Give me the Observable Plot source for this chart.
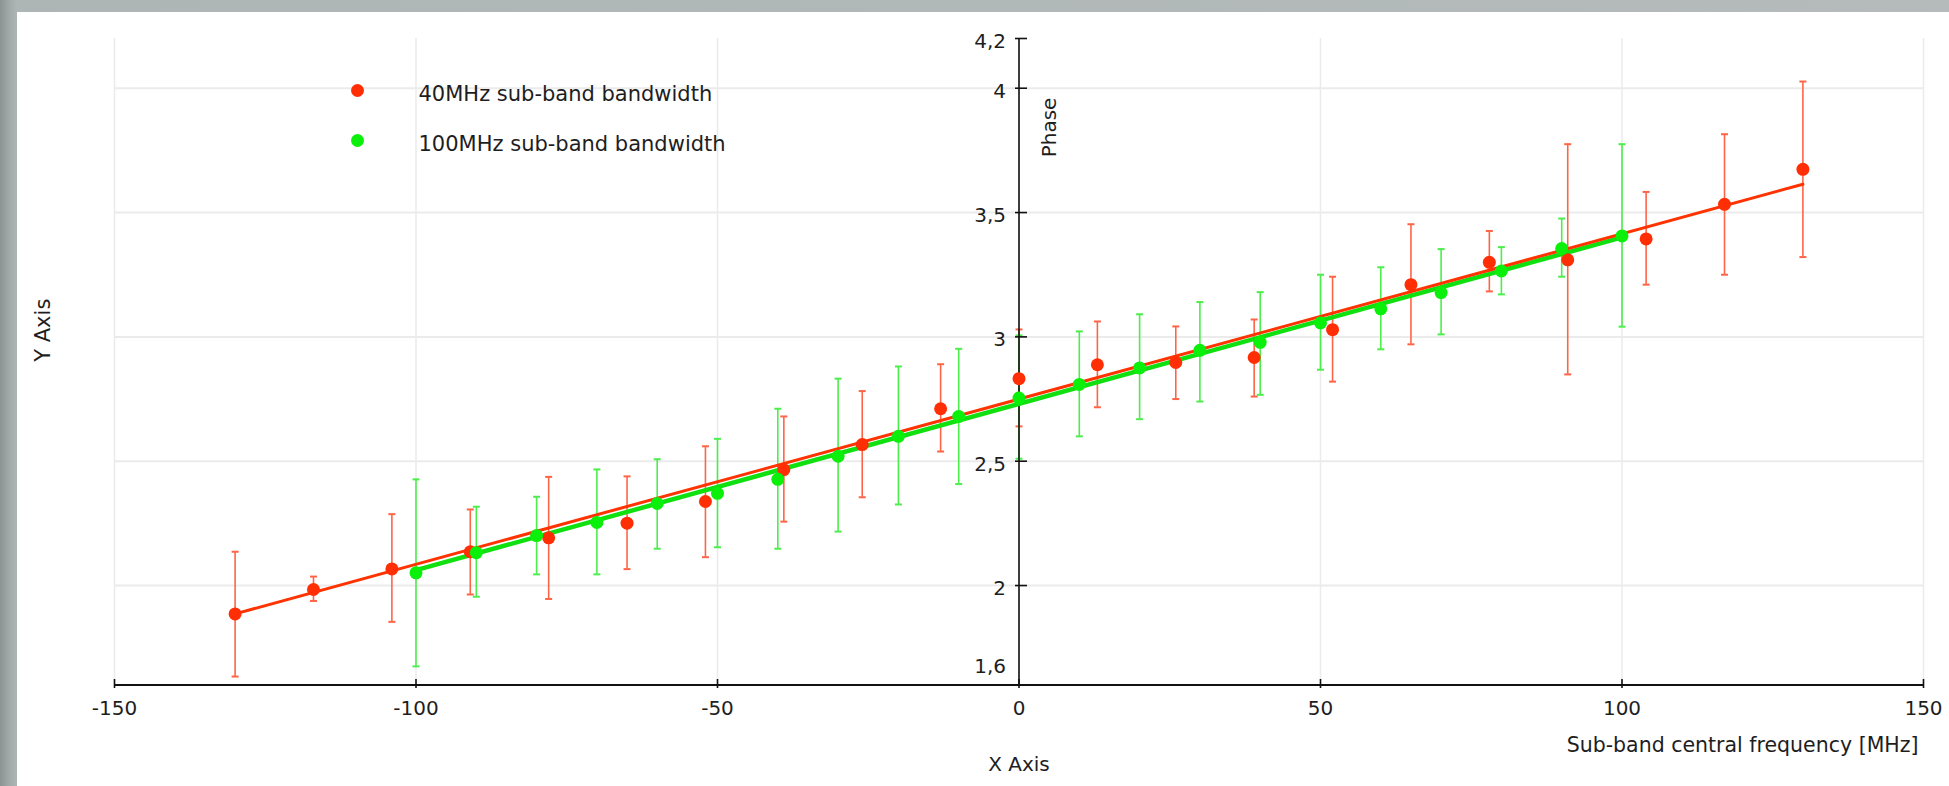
<!DOCTYPE html>
<html><head><meta charset="utf-8">
<script src="https://cdn.jsdelivr.net/npm/d3@7"></script>
<script src="https://cdn.jsdelivr.net/npm/@observablehq/plot@0.6"></script>
<style>
html,body{margin:0;padding:0;width:1949px;height:786px;overflow:hidden;}
body{background:linear-gradient(90deg,#8c9393 0px,#a3aaaa 10px,#aeb5b5 17px,#b4bbba 100%);position:relative;}
#panel{position:absolute;left:17px;top:12px;right:0;bottom:0;background:#fff;}
#chart{position:absolute;left:0;top:0;}
</style></head><body><div id="panel"></div><div id="chart"></div>
<script>
// 40MHz sub-band bandwidth (red)
const redX  = [-130,-117,-104,-91,-78,-65,-52,-39,-26,-13,0,13,26,39,52,65,78,91,104,117,130];
const redY  = [1.886,1.984,2.067,2.136,2.192,2.251,2.338,2.466,2.567,2.711,2.832,2.888,2.897,2.917,3.029,3.21,3.30,3.31,3.394,3.533,3.674];
const redHi = [2.136,2.036,2.287,2.306,2.437,2.439,2.56,2.68,2.782,2.89,3.03,3.062,3.042,3.07,3.242,3.453,3.426,3.775,3.583,3.815,4.027];
const redLo = [1.634,1.938,1.854,1.964,1.946,2.066,2.114,2.257,2.355,2.539,2.64,2.717,2.75,2.76,2.82,2.97,3.183,2.849,3.21,3.25,3.321];
// 100MHz sub-band bandwidth (green)
const greenX  = [-100,-90,-80,-70,-60,-50,-40,-30,-20,-10,0,10,20,30,40,50,60,70,80,90,100];
const greenY  = [2.051,2.132,2.201,2.254,2.33,2.371,2.427,2.52,2.60,2.68,2.754,2.809,2.875,2.946,2.978,3.056,3.113,3.178,3.265,3.355,3.406];
const greenHi = [2.427,2.317,2.357,2.467,2.508,2.59,2.711,2.832,2.881,2.952,3.006,3.022,3.091,3.14,3.18,3.25,3.28,3.353,3.361,3.476,3.775];
const greenLo = [1.675,1.955,2.045,2.045,2.148,2.154,2.148,2.217,2.326,2.408,2.51,2.60,2.669,2.74,2.767,2.868,2.95,3.01,3.171,3.242,3.041];
// linear fits (end points)
const redFitX = [-130,130], redFitY = [1.886,3.614];
const greenFitX = [-100,100], greenFitY = [2.062,3.400];
// axes
const xTicks = [-150,-100,-50,0,50,100,150];
const xTickLabels = ["-150","-100","-50","0","50","100","150"];
const yTicks = [2,2.5,3,3.5,4,4.2];
const yTickLabels = ["2","2,5","3","3,5","4","4,2"];
const yMin = 1.6, yMinLabel = "1,6";
const yGrid = [2,2.5,3,3.5,4];
const seriesNames = ["40MHz sub-band bandwidth","100MHz sub-band bandwidth"];

const red = redX.map((x,i)=>({x, y:redY[i], hi:redHi[i], lo:redLo[i]}));
const green = greenX.map((x,i)=>({x, y:greenY[i], hi:greenHi[i], lo:greenLo[i]}));
const redFit = redFitX.map((x,i)=>({x, y:redFitY[i]}));
const greenFit = greenFitX.map((x,i)=>({x, y:greenFitY[i]}));

const hCap = {draw(ctx,size){const r=Math.sqrt(size/Math.PI);ctx.moveTo(-r,0);ctx.lineTo(r,0);}};
const yTickSym = {draw(ctx){ctx.moveTo(-4,0);ctx.lineTo(8,0);}};
const xTickSym = {draw(ctx){ctx.moveTo(0,-6);ctx.lineTo(0,3);}};

const RED="#ff2e05", REDLINE="#ff3300", REDERR="#ff6447";
const GREEN="#0af00a", GREENLINE="#10e010", GREENERR="#4cee4c";
const TXT="#1e1e1e";

const chart = Plot.plot({
  width:1949, height:786,
  marginLeft:114, marginRight:26, marginTop:38, marginBottom:101.5,
  x:{domain:[-150,150], axis:null},
  y:{domain:[1.6,4.2], axis:null},
  style:{fontFamily:"'DejaVu Sans', sans-serif", fontSize:"20px", color:TXT, background:"transparent", overflow:"visible"},
  marks:[
    Plot.ruleX(xTicks,{x:d=>d, y1:1.6, y2:4.2, stroke:"#ebebeb", strokeWidth:1.5}),
    Plot.ruleY(yGrid,{y:d=>d, x1:-150, x2:150, stroke:"#ebebeb", strokeWidth:2}),
    // error bars
    Plot.ruleX(red,{x:"x", y1:"lo", y2:"hi", stroke:REDERR, strokeWidth:1.6}),
    Plot.dot(red,{x:"x", y:"hi", symbol:hCap, r:3.5, fill:"none", stroke:REDERR, strokeWidth:2}),
    Plot.dot(red,{x:"x", y:"lo", symbol:hCap, r:3.5, fill:"none", stroke:REDERR, strokeWidth:2}),
    Plot.ruleX(green,{x:"x", y1:"lo", y2:"hi", stroke:GREENERR, strokeWidth:1.6}),
    Plot.dot(green,{x:"x", y:"hi", symbol:hCap, r:3.5, fill:"none", stroke:GREENERR, strokeWidth:2}),
    Plot.dot(green,{x:"x", y:"lo", symbol:hCap, r:3.5, fill:"none", stroke:GREENERR, strokeWidth:2}),
    // axes lines
    Plot.ruleX([0],{y1:1.6, y2:4.2, stroke:"#111", strokeWidth:1.6}),
    Plot.ruleY([yMin],{x1:-150, x2:150, stroke:"#111", strokeWidth:2}),
    Plot.dot(yTicks,{x:0, y:d=>d, symbol:yTickSym, fill:"none", stroke:"#111", strokeWidth:1.6}),
    Plot.dot(xTicks,{x:d=>d, y:yMin, symbol:xTickSym, fill:"none", stroke:"#111", strokeWidth:1.6}),
    // fit lines
    Plot.line(greenFit,{x:"x", y:"y", stroke:GREENLINE, strokeWidth:4.5}),
    Plot.line(redFit,{x:"x", y:"y", stroke:REDLINE, strokeWidth:3}),
    // points
    Plot.dot(red,{x:"x", y:"y", r:6.5, fill:RED}),
    Plot.dot(green,{x:"x", y:"y", r:6.5, fill:GREEN}),
    // tick labels
    Plot.text(yTicks,{x:0, y:d=>d, text:(d,i)=>yTickLabels[i], textAnchor:"end", dx:-13, dy:3, fill:TXT}),
    Plot.text([yMin],{x:0, y:d=>d, text:()=>yMinLabel, textAnchor:"end", dx:-13, dy:-18, fill:TXT}),
    Plot.text(xTicks,{x:d=>d, y:yMin, text:(d,i)=>xTickLabels[i], dy:24, fill:TXT}),
    // axis titles
    Plot.text(["Phase"],{x:0, y:4.2, text:d=>d, rotate:-90, dx:31, dy:89, fill:TXT}),
    Plot.text(["Y Axis"],{frameAnchor:"left", text:d=>d, rotate:-90, dx:-71, fontSize:21, fill:TXT}),
    Plot.text(["X Axis"],{frameAnchor:"bottom", text:d=>d, dy:86, fontSize:20, fill:TXT}),
    Plot.text(["Sub-band central frequency [MHz]"],{frameAnchor:"bottom-right", text:d=>d, textAnchor:"end", dx:-5, dy:67, fontSize:20.5, fill:TXT}),
    // legend
    Plot.dot([0],{frameAnchor:"top-left", dx:243, dy:52, r:6.5, fill:RED}),
    Plot.dot([0],{frameAnchor:"top-left", dx:243, dy:102, r:6.5, fill:GREEN}),
    Plot.text([seriesNames[0]],{frameAnchor:"top-left", text:d=>d, textAnchor:"start", dx:304, dy:48, fontSize:21, fill:TXT}),
    Plot.text([seriesNames[1]],{frameAnchor:"top-left", text:d=>d, textAnchor:"start", dx:304, dy:98, fontSize:21, fill:TXT})
  ]
});
document.getElementById("chart").appendChild(chart);
</script></body></html>
